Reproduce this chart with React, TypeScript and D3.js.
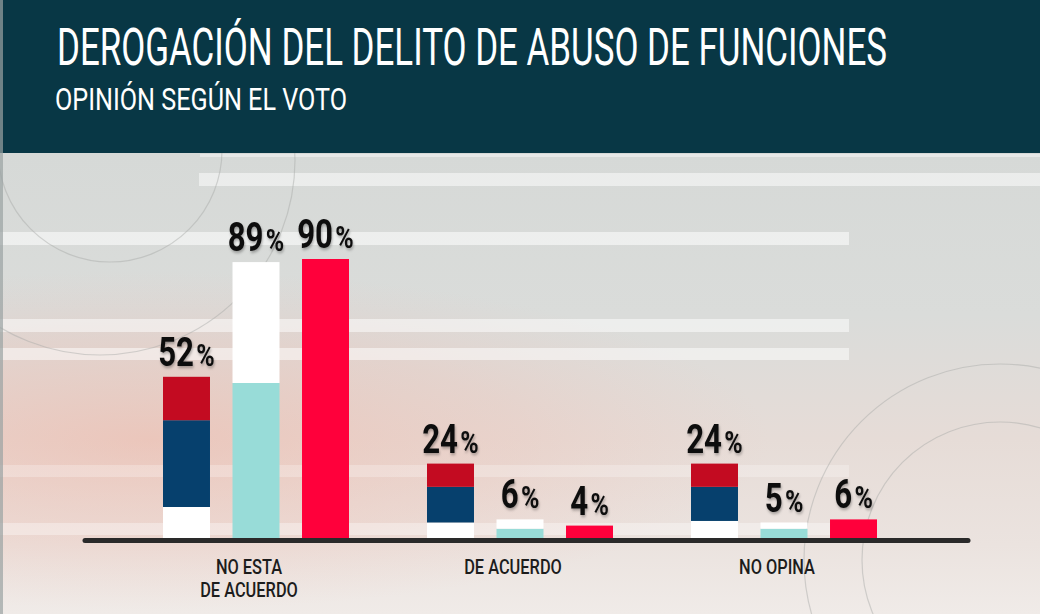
import React from 'react';
import * as d3 from 'd3';

const categories = ['NO ESTA DE ACUERDO', 'DE ACUERDO', 'NO OPINA'];
const categoryLines = [['NO ESTA', 'DE ACUERDO'], ['DE ACUERDO'], ['NO OPINA']];

// first bar of each group, stacked from the bottom
const stackWhite = [10, 5, 5.5];
const stackBlue = [28, 11.5, 11];
const stackRed = [14, 7.5, 7.5];
// second bar: teal base with a white top
const tealBase = [50, 3, 3];
const tealTop = [39, 3, 2];
// third bar
const redBar = [90, 4, 6];

const barKeys = ['stack', 'teal', 'red'];

const W = 1040, H = 614;

const C = {
  header: '#083745',
  white: '#ffffff',
  blue: '#06406d',
  darkRed: '#c30b21',
  teal: '#98dcd8',
  red: '#ff003b',
  ink: '#111111',
};

const Pct = ({ x, y, value }: { x: number; y: number; value: number }) => (
  <g transform={`translate(${x},${y}) scale(0.78,1)`}>
    <text textAnchor="middle" fontFamily="Roboto" fontWeight={700} fontSize={40} fill={C.ink} filter="url(#txtShadow)">
      {Math.round(value)}
      <tspan fontSize={32} dx={3}>%</tspan>
    </text>
  </g>
);

export default function App() {
  const baseY = 538;
  const y = d3.scaleLinear().domain([0, 100]).range([baseY, baseY - 310]);
  const x0 = d3.scalePoint().domain(categories).range([256, 784]);
  const x1 = d3.scaleBand().domain(barKeys).range([-93, 93]).paddingInner(0.324).paddingOuter(0);
  const bw = x1.bandwidth();

  const seg = (x: number, from: number, to: number, fill: string, key: string) => (
    <rect key={key} x={x} y={y(to)} width={bw} height={y(from) - y(to)} fill={fill} />
  );

  // decorative background stripes
  const stripes = [
    { x: 199, y: 173, w: 841, h: 13, o: 0.5 },
    { x: 0, y: 232, w: 849, h: 13, o: 0.55 },
    { x: 0, y: 319, w: 849, h: 13, o: 0.5 },
    { x: 0, y: 348, w: 849, h: 12, o: 0.5 },
    { x: 0, y: 465, w: 849, h: 12, o: 0.25 },
    { x: 0, y: 523, w: 849, h: 12, o: 0.35 },
    { x: 200, y: 154, w: 840, h: 3, o: 0.4 },
  ];

  const axisLeft = (x0(categories[0]) as number) - 171;
  const axisRight = (x0(categories[categories.length - 1]) as number) + 184;

  return (
    <svg width={W} height={H} style={{ position: 'absolute', left: 0, top: 0, display: 'block' }}>
      <defs>
        <linearGradient id="bg" x1="0" y1="0" x2="0" y2="1">
          <stop offset="0" stopColor="#d6d9d7" />
          <stop offset="0.35" stopColor="#dadcda" />
          <stop offset="0.62" stopColor="#e6dcd7" />
          <stop offset="0.85" stopColor="#ebe3df" />
          <stop offset="1" stopColor="#f0ebe8" />
        </linearGradient>
        <radialGradient id="salmon" cx="0.5" cy="0.5" r="0.5">
          <stop offset="0" stopColor="#f2a895" stopOpacity="0.42" />
          <stop offset="0.6" stopColor="#f0b8aa" stopOpacity="0.25" />
          <stop offset="1" stopColor="#f0c0b5" stopOpacity="0" />
        </radialGradient>
        <filter id="txtShadow" x="-20%" y="-20%" width="140%" height="150%">
          <feDropShadow dx="1" dy="2" stdDeviation="1.5" floodColor="#000" floodOpacity="0.3" />
        </filter>
      </defs>

      {/* background */}
      <rect x={0} y={153} width={W} height={H - 153} fill="url(#bg)" />
      <ellipse cx={150} cy={440} rx={620} ry={170} fill="url(#salmon)" />
      {stripes.map((s, i) => (
        <rect key={i} x={s.x} y={s.y} width={s.w} height={s.h} fill="#ffffff" opacity={s.o} />
      ))}
      <g fill="none" stroke="#a6a8a7" strokeOpacity={0.45} strokeWidth={1.2}>
        <circle cx={100} cy={160} r={195} />
        <circle cx={110} cy={150} r={112} />
        <circle cx={1000} cy={560} r={196} />
        <circle cx={1000} cy={560} r={138} />
      </g>

      {/* header */}
      <rect x={0} y={0} width={W} height={153} fill={C.header} />
      <rect x={0} y={0} width={3} height={H} fill="#9aa2a3" opacity={0.7} />
      <g transform="translate(57,65) scale(1,1.3)">
        <text x={0} y={0} fontFamily="Roboto" fontWeight={400} fontSize={40} fill="#ffffff"
          textLength={830} lengthAdjust="spacingAndGlyphs">
          DEROGACIÓN DEL DELITO DE ABUSO DE FUNCIONES
        </text>
      </g>
      <g transform="translate(55,110) scale(1,1.28)">
        <text x={0} y={0} fontFamily="Roboto" fontWeight={400} fontSize={24} fill="#ffffff"
          textLength={292} lengthAdjust="spacingAndGlyphs">
          OPINIÓN SEGÚN EL VOTO
        </text>
      </g>

      {/* bars */}
      {categories.map((cat, i) => {
        const cx = x0(cat) as number;
        const xs = cx + (x1('stack') as number);
        const xt = cx + (x1('teal') as number);
        const xr = cx + (x1('red') as number);
        const s1 = stackWhite[i], s2 = s1 + stackBlue[i], s3 = s2 + stackRed[i];
        const t1 = tealBase[i], t2 = t1 + tealTop[i];
        return (
          <g key={cat}>
            {seg(xs, 0, s1, C.white, 'sw')}
            {seg(xs, s1, s2, C.blue, 'sb')}
            {seg(xs, s2, s3, C.darkRed, 'sr')}
            {seg(xt, 0, t1, C.teal, 'tb')}
            {seg(xt, t1, t2, C.white, 'tt')}
            {seg(xr, 0, redBar[i], C.red, 'r')}
            <Pct x={xs + bw / 2} y={y(s3) - 11} value={s3} />
            <Pct x={xt + bw / 2} y={y(t2) - 11} value={t2} />
            <Pct x={xr + bw / 2} y={y(redBar[i]) - 11} value={redBar[i]} />
            {categoryLines[i].map((line, j) => (
              <g key={line} transform={`translate(${cx - 7},${574 + j * 22.5}) scale(0.78,1)`}>
                <text textAnchor="middle" fontFamily="Roboto" fontWeight={500} fontSize={21} fill="#1c1c1c">
                  {line}
                </text>
              </g>
            ))}
          </g>
        );
      })}

      {/* baseline */}
      <line x1={axisLeft} x2={axisRight} y1={baseY + 2.5} y2={baseY + 2.5}
        stroke="#2a2a2a" strokeWidth={5} strokeLinecap="round" />
    </svg>
  );
}
